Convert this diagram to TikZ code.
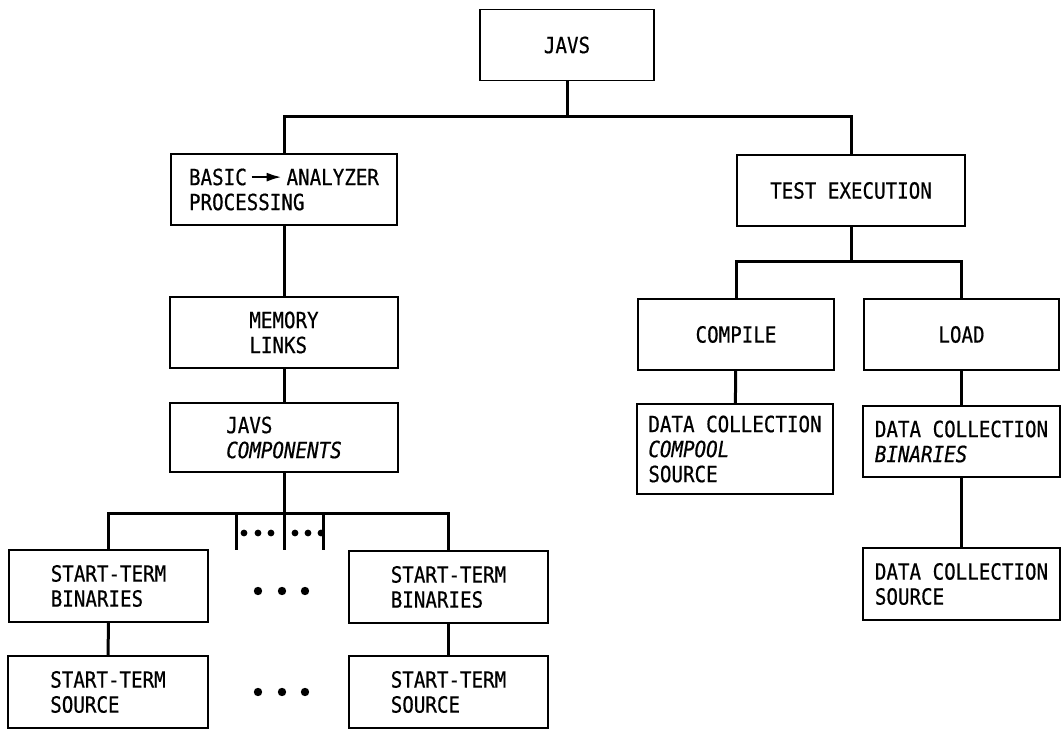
\documentclass[tikz,border=0pt]{standalone}
\usepackage{fontspec}
\usepackage{tikz}
\usetikzlibrary{arrows.meta}
\newfontfamily\diagfont{DejaVu Sans Mono}[FakeStretch=0.86,FakeBold=0.6]
\newcommand{\toarrow}{\,\tikz[x=1pt,y=1pt,baseline=-8pt]\draw[line width=2.4pt,-{Latex[length=15pt,width=9pt]}] (0,0) -- (30,0);\,}
\tikzset{blk/.style={draw, line width=1.6pt, inner sep=0pt, align=left,
    font=\diagfont\fontsize{22.3}{25}\selectfont},
  lnk/.style={line width=3pt}}

\begin{document}
\begin{tikzpicture}[x=1pt,y=-1pt]
\useasboundingbox (0,0) rectangle (1061,735);
% top level
\node[blk, minimum width=174pt, minimum height=71pt] (javs) at (567,45) {JAVS};
\node[blk, minimum width=226pt, minimum height=71pt] (basic) at (284,189.5) {BASIC\toarrow ANALYZER\\PROCESSING};
\node[blk, minimum width=228pt, minimum height=71pt] (test) at (851,190.5) {TEST EXECUTION};
% left branch
\node[blk, minimum width=228pt, minimum height=71pt] (mem) at (284,332.5) {MEMORY\\LINKS};
\node[blk, minimum width=228pt, minimum height=69pt] (comp) at (284,437.5) {JAVS\\\itshape COMPONENTS};
\node[blk, minimum width=199pt, minimum height=72pt] (stbl) at (108.5,586) {START-TERM\\BINARIES};
\node[blk, minimum width=199pt, minimum height=72pt] (stbr) at (448.5,587) {START-TERM\\BINARIES};
\node[blk, minimum width=200pt, minimum height=72pt] (stsl) at (108,692) {START-TERM\\SOURCE};
\node[blk, minimum width=199pt, minimum height=72pt] (stsr) at (448.5,692) {START-TERM\\SOURCE};
% right branch
\node[blk, minimum width=196pt, minimum height=71pt] (compile) at (736,334.5) {COMPILE};
\node[blk, minimum width=195pt, minimum height=71pt] (load) at (961.5,334.5) {LOAD};
\node[blk, minimum width=196pt, minimum height=90pt] (dccs) at (735,449) {DATA COLLECTION\\\itshape COMPOOL\\SOURCE};
\node[blk, minimum width=197pt, minimum height=71pt] (dcb) at (961.5,441.5) {DATA COLLECTION\\\itshape BINARIES};
\node[blk, minimum width=197pt, minimum height=72pt] (dcs) at (961.5,584) {DATA COLLECTION\\SOURCE};
% connectors
\coordinate (top) at (567,117); \coordinate (rbar) at (851,262);
\coordinate (lbar) at (284,513); \coordinate (tickm) at (284,550);
\coordinate (tickl) at (236,513); \coordinate (tickr) at (323,513);
\draw[lnk] (javs) -- (top); \draw[lnk] (basic.north) |- (top) -| (test.north);
\draw[lnk] (basic) -- (mem); \draw[lnk] (mem) -- (comp); \draw[lnk] (comp) -- (tickm);
\draw[lnk] (stbl.north) |- (lbar) -| (stbr.north);
\draw[lnk] (tickl) -- ++(0,37); \draw[lnk] (tickr) -- ++(0,37);
\draw[lnk] (stbl) -- (stsl); \draw[lnk] (stbr) -- (stsr);
\draw[lnk] (test) -- (rbar); \draw[lnk] (compile.north) |- (rbar) -| (load.north);
\draw[lnk] (compile) -- (dccs); \draw[lnk] (load) -- (dcb); \draw[lnk] (dcb) -- (dcs);
% dots
\foreach \x in {245,259,272,296,309,322} \fill (\x-1,533) circle (3.4);
\foreach \x in {258,282,305} { \fill (\x,591) circle (4.2); \fill (\x,692) circle (4.2); }
\end{tikzpicture}
\end{document}
